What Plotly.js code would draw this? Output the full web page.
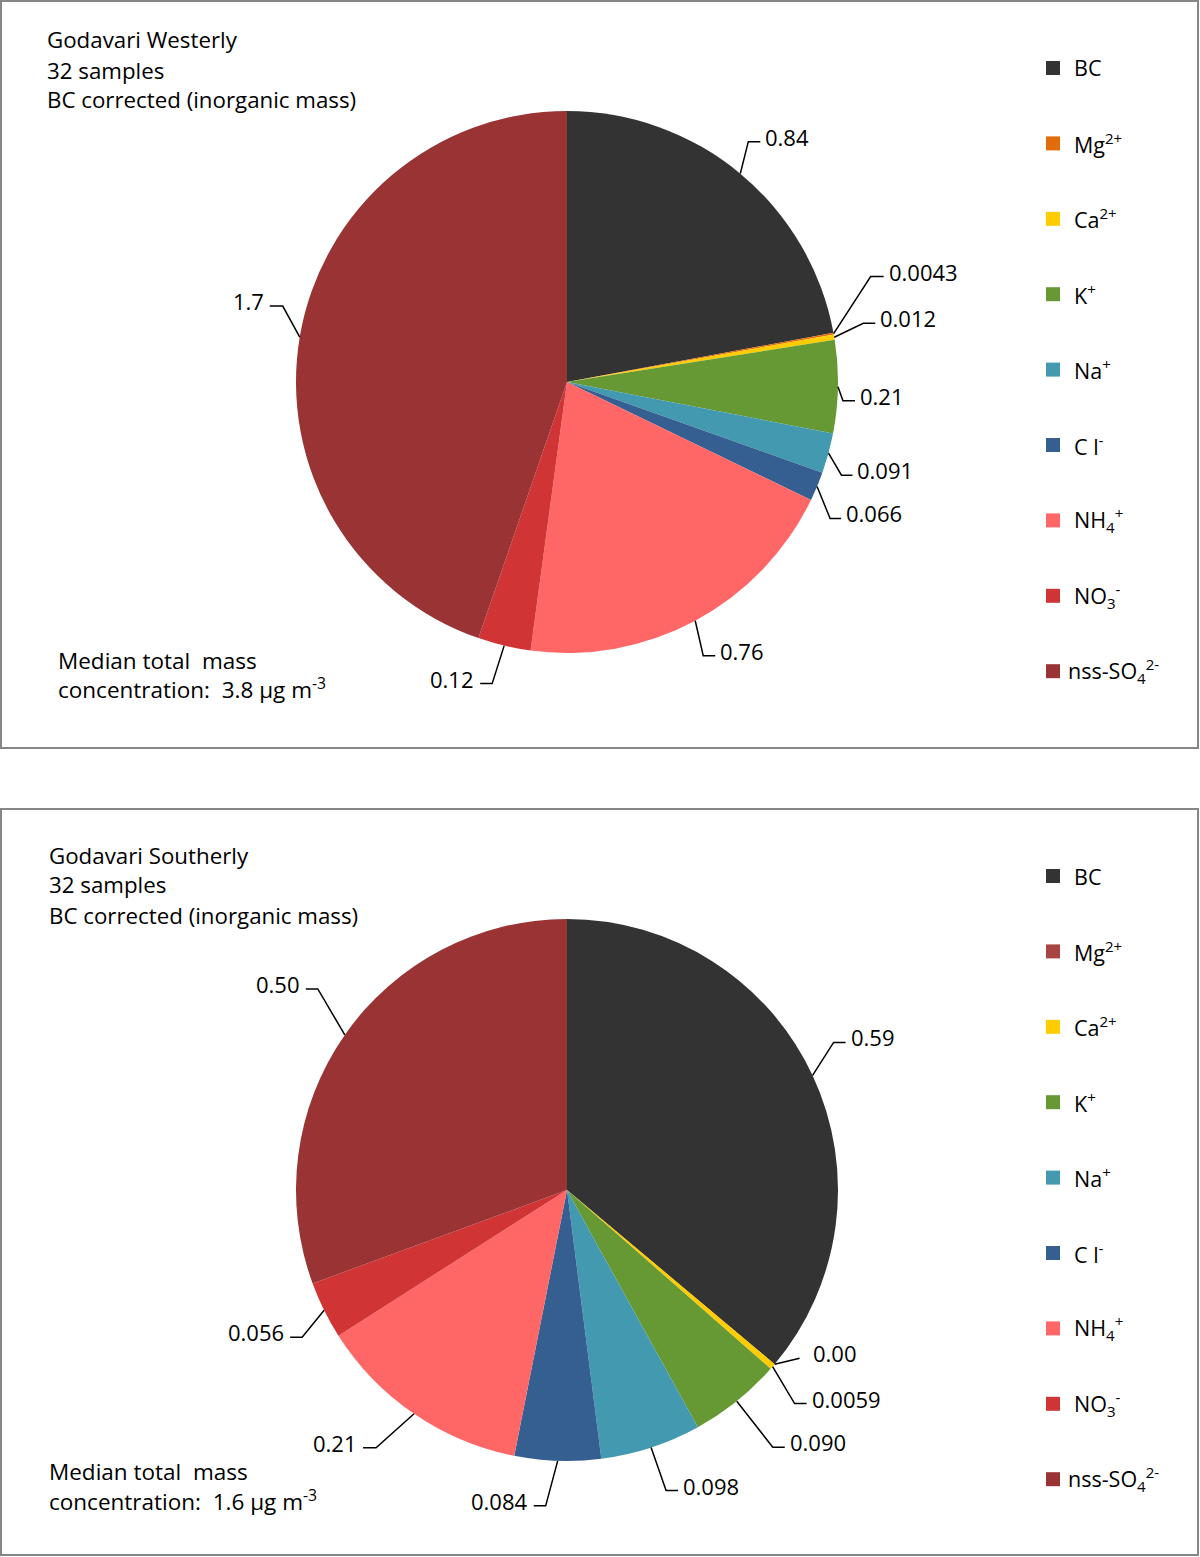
<!DOCTYPE html>
<html>
<head>
<meta charset="utf-8">
<script src="https://cdn.plot.ly/plotly-3.0.1.min.js"></script>
<style>
  html, body { margin: 0; padding: 0; background: #fff; }
  #chart { width: 1200px; height: 1557px; }
</style>
</head>
<body>
<div id="chart"></div>
<script>
// species shown in both pies (legend order = slice order)
var species = ['BC', 'Mg<sup>2+</sup>', 'Ca<sup>2+</sup>', 'K<sup>+</sup>', 'Na<sup>+</sup>',
               'C l<sup>-</sup>', 'NH<sub>4</sub><sup>+</sup>', 'NO<sub>3</sub><sup>-</sup>',
               'nss-SO<sub>4</sub><sup>2-</sup>'];

// median concentrations, ug m-3
var westerlyValues  = [0.84, 0.0043, 0.012, 0.21, 0.091, 0.066, 0.76, 0.12, 1.7];
var southerlyValues = [0.59, 0.00, 0.0059, 0.090, 0.098, 0.084, 0.21, 0.056, 0.50];

var westerlyColors  = ['#333333', '#E36C0A', '#FFCC00', '#669933', '#4299B0', '#355F91', '#FF6666', '#D03434', '#993334'];
var southerlyColors = ['#333333', '#A94444', '#FFCC00', '#669933', '#4299B0', '#355F91', '#FF6666', '#D03434', '#993334'];

var westerlyInfo  = ['Godavari Westerly', '32 samples', 'BC corrected (inorganic mass)'];
var southerlyInfo = ['Godavari Southerly', '32 samples', 'BC corrected (inorganic mass)'];
var westerlyTotal = '3.8';
var southerlyTotal = '1.6';

// leader line elbows relative to slice edge: [dx, dy, horizontal length, text gap]
var westerlyLeaders = [[8, -32, 12, 3], [37, -57, 13, 3], [29, -14, 12, 3], [5, 14, 12, 3], [13, 22, 11, 3],
                       [13, 32, 11, 3], [8, 35, 12, 3], [-12, 38, 12, 4], [-17, -31, 13, 4]];
var southerlyLeaders = [[21, -33, 12, 3], [25, -6, 0, 11], [22, 37, 12, 3], [36, 46, 12, 3], [15, 43, 12, 3],
                        [-12, 45, 12, 4], [-38, 34, 13, 4], [-22, 27, 12, 4], [-27, -46, 12, 4]];

var W = 1200, H = 1557;
function px(x) { return x / W; }
function py(y) { return 1 - y / H; }

var FONT = 'Open Sans, Noto Sans, sans-serif';
var R = 271;

function fmt(v) {
    return v === 0 ? v.toFixed(2) : v.toPrecision(2);
}

function makePanel(p) {
    var trace = {
        type: 'pie',
        values: p.values,
        labels: species,
        marker: { colors: p.colors, line: { width: 0 } },
        sort: false,
        direction: 'clockwise',
        rotation: 0,
        textinfo: 'none',
        hoverinfo: 'label+value',
        showlegend: false,
        domain: { x: [px(p.cx - R), px(p.cx + R)], y: [py(p.cy + R), py(p.cy - R)] }
    };

    var shapes = [], annotations = [];

    // frame
    shapes.push({ type: 'rect', xref: 'paper', yref: 'paper',
        x0: px(p.box[0]), x1: px(p.box[2]), y0: py(p.box[1]), y1: py(p.box[3]),
        line: { color: '#868686', width: 2 } });

    // value labels with leader lines
    var total = p.values.reduce(function (a, b) { return a + b; }, 0);
    var cum = 0;
    for (var i = 0; i < p.values.length; i++) {
        var mid = (cum + p.values[i] / 2) / total * 2 * Math.PI;
        cum += p.values[i];
        var ex = p.cx + R * Math.sin(mid), ey = p.cy - R * Math.cos(mid);
        var ld = p.leaders[i];
        var side = Math.sin(mid) >= 0 ? 1 : -1;
        var bx = ex + ld[0], by = ey + ld[1];
        var hx = bx + side * ld[2];
        var path = 'M' + px(ex) + ',' + py(ey) + ' L' + px(bx) + ',' + py(by);
        if (ld[2] > 0) path += ' L' + px(hx) + ',' + py(by);
        shapes.push({ type: 'path', xref: 'paper', yref: 'paper', path: path,
            line: { color: '#000000', width: 1.5 } });
        annotations.push({ xref: 'paper', yref: 'paper', showarrow: false,
            x: px(hx + side * ld[3]), y: py(by - 5),
            xanchor: side > 0 ? 'left' : 'right', yanchor: 'middle',
            text: fmt(p.values[i]), font: { family: FONT, size: 22, color: '#000' } });
    }

    // legend drawn by hand to keep the wide Excel spacing
    for (var j = 0; j < species.length; j++) {
        var ly = p.legendTop + j * 75.4;
        shapes.push({ type: 'rect', xref: 'paper', yref: 'paper',
            x0: px(1046), x1: px(1060), y0: py(ly + 7), y1: py(ly - 7),
            fillcolor: p.colors[j], line: { width: 0 } });
        annotations.push({ xref: 'paper', yref: 'paper', showarrow: false,
            x: px(j === 8 ? 1066 : 1072), y: py(ly), xanchor: 'left', yanchor: 'middle',
            text: species[j], font: { family: FONT, size: 21.5, color: '#000' } });
    }

    // header lines
    for (var k = 0; k < p.info.length; k++) {
        annotations.push({ xref: 'paper', yref: 'paper', showarrow: false,
            x: px(p.infoX), y: py(p.infoY + k * 30), xanchor: 'left', yanchor: 'middle',
            text: p.info[k], font: { family: FONT, size: 22.3, color: '#000' } });
    }

    // total mass note
    var note = ['Median total&nbsp; mass', 'concentration:&nbsp; ' + p.total + ' µg m<sup>-3</sup>'];
    for (var m = 0; m < note.length; m++) {
        annotations.push({ xref: 'paper', yref: 'paper', showarrow: false,
            x: px(p.noteX), y: py(p.noteY + m * 29), xanchor: 'left', yanchor: 'middle',
            text: note[m], font: { family: FONT, size: 22.5, color: '#000' } });
    }

    return { trace: trace, shapes: shapes, annotations: annotations };
}

var westPanel = makePanel({
    values: westerlyValues, colors: westerlyColors, leaders: westerlyLeaders,
    info: westerlyInfo, total: westerlyTotal,
    cx: 567, cy: 382, box: [1, 1, 1198, 748],
    legendTop: 68, infoX: 45, infoY: 40, noteX: 56, noteY: 660
});
var southPanel = makePanel({
    values: southerlyValues, colors: southerlyColors, leaders: southerlyLeaders,
    info: southerlyInfo, total: southerlyTotal,
    cx: 567, cy: 1190, box: [1, 809, 1198, 1555],
    legendTop: 876, infoX: 47, infoY: 855, noteX: 47, noteY: 1471
});

var layout = {
    width: W, height: H,
    margin: { l: 0, r: 0, t: 0, b: 0 },
    paper_bgcolor: '#ffffff',
    showlegend: false,
    shapes: westPanel.shapes.concat(southPanel.shapes),
    annotations: westPanel.annotations.concat(southPanel.annotations)
};

Plotly.newPlot('chart', [westPanel.trace, southPanel.trace], layout, { displayModeBar: false });
</script>
</body>
</html>
